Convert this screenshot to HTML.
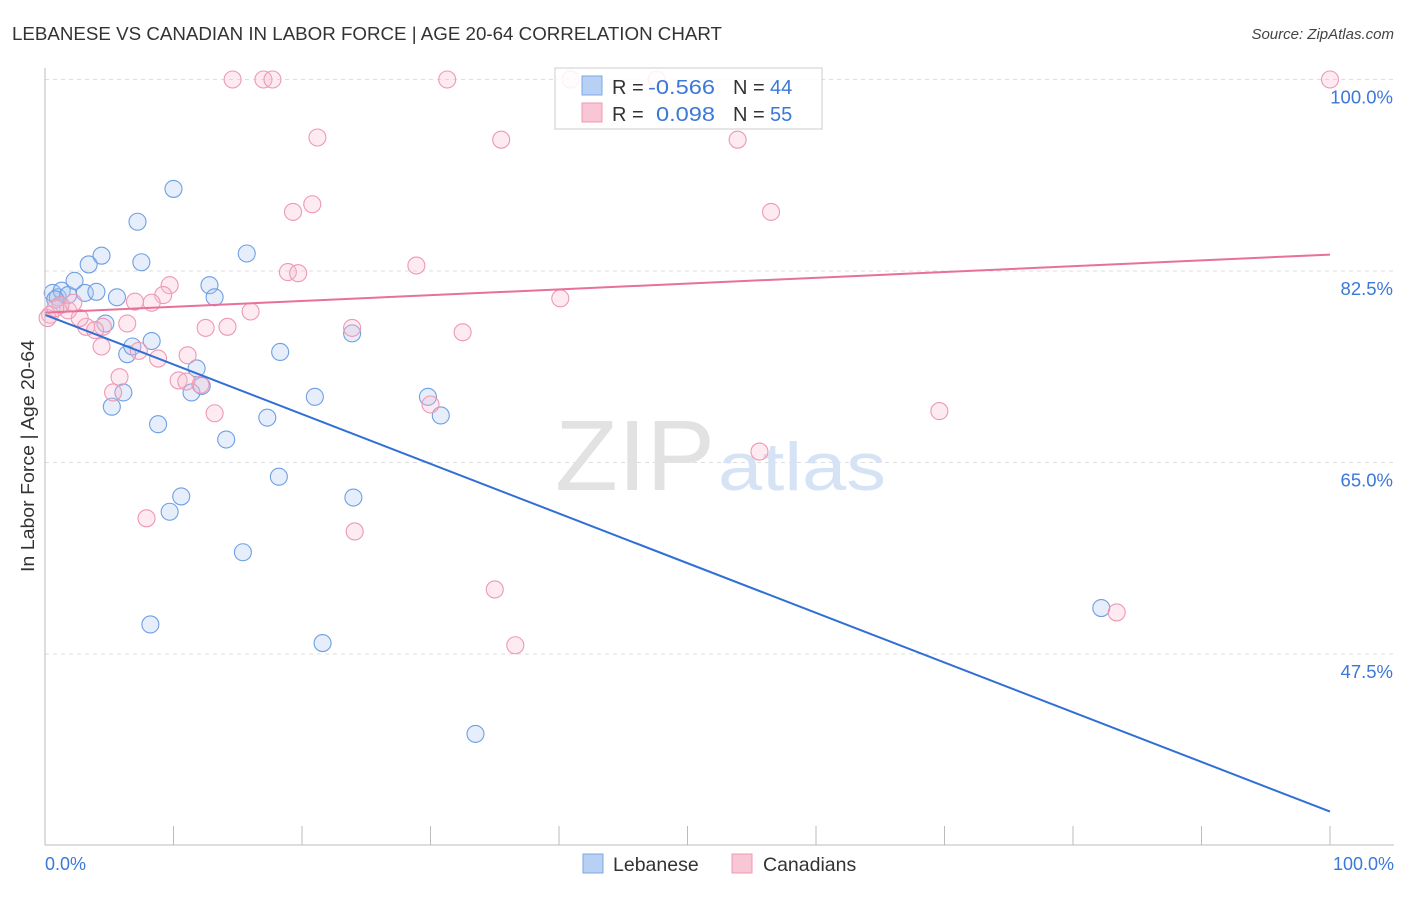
<!DOCTYPE html>
<html><head><meta charset="utf-8"><style>
body{margin:0;background:#fff;font-family:"Liberation Sans",sans-serif;}
svg text{font-family:"Liberation Sans",sans-serif;}
</style></head><body>
<svg id="chart" width="1406" height="892">
<text x="12" y="40" font-size="18.5" fill="#333" textLength="710" lengthAdjust="spacingAndGlyphs">LEBANESE VS CANADIAN IN LABOR FORCE | AGE 20-64 CORRELATION CHART</text>
<text x="1394" y="39" font-size="15" fill="#444" text-anchor="end" font-style="italic">Source: ZipAtlas.com</text>
<text x="0" y="0" font-size="18" fill="#333" textLength="232" lengthAdjust="spacingAndGlyphs" transform="translate(34 572) rotate(-90)">In Labor Force | Age 20-64</text>
<g id="grid"></g>
<text x="555" y="490" font-size="100" fill="#e2e2e2" font-family="Liberation Serif" textLength="160" lengthAdjust="spacingAndGlyphs">ZIP</text>
<text x="718" y="490" font-size="68" fill="#d5e3f5" textLength="168" lengthAdjust="spacingAndGlyphs">atlas</text>
<g id="points"></g>
<g id="lines"></g>
<line x1="45" y1="68" x2="45" y2="845" stroke="#bbb"/>
<line x1="45" y1="845" x2="1394" y2="845" stroke="#bbb"/>
<g id="ticks"></g>
<text x="45" y="870" font-size="18" fill="#3b78d8">0.0%</text>
<text x="1394" y="870" font-size="18" fill="#3b78d8" text-anchor="end">100.0%</text>
<g>
<rect x="555" y="68" width="267" height="61" fill="rgba(255,255,255,0.85)" stroke="#ccc"/>
<rect x="582" y="76" width="20" height="19" fill="#b8d0f4" stroke="#7ea6e6"/>
<rect x="582" y="103" width="20" height="19" fill="#f9c6d5" stroke="#ef98b2"/>
<text x="612" y="94" font-size="20" fill="#333">R =</text>
<text x="648" y="94" font-size="20" fill="#3b78d8" textLength="67" lengthAdjust="spacingAndGlyphs">-0.566</text>
<text x="733" y="94" font-size="20" fill="#333">N =</text>
<text x="770" y="94" font-size="20" fill="#3b78d8">44</text>
<text x="612" y="121" font-size="20" fill="#333">R =</text>
<text x="656" y="121" font-size="20" fill="#3b78d8" textLength="59" lengthAdjust="spacingAndGlyphs">0.098</text>
<text x="733" y="121" font-size="20" fill="#333">N =</text>
<text x="770" y="121" font-size="20" fill="#3b78d8">55</text>
</g>
<g>
<rect x="583" y="854" width="20" height="19" fill="#b8d0f4" stroke="#7ea6e6"/>
<text x="613" y="871" font-size="19.5" fill="#333">Lebanese</text></g>
<g>
<rect x="732" y="854" width="20" height="19" fill="#f9c6d5" stroke="#ef98b2"/>
<text x="763" y="871" font-size="19.5" fill="#333">Canadians</text></g>
</svg>
<script>
const yTicks=[100,82.5,65,47.5];
const yTickLabels=["100.0%","82.5%","65.0%","47.5%"];
const xTicks=[0,10,20,30,40,50,60,70,80,90,100];
const lebX=[0.6,1.0,1.3,1.8,2.3,3.1,3.4,4.0,4.4,5.6,4.7,5.2,6.1,6.4,6.8,7.2,7.5,8.3,8.8,10.0,9.7,10.6,11.4,11.8,12.2,12.8,13.2,14.1,15.4,15.7,17.3,18.2,18.3,21.0,21.6,23.9,24.0,8.2,29.8,30.8,33.5,82.2,0.8,1.2];
const lebY=[80.5,80.1,80.7,80.3,81.6,80.5,83.1,80.6,83.9,80.1,77.7,70.1,71.4,74.9,75.6,87.0,83.3,76.1,68.5,90.0,60.5,61.9,71.4,73.6,72.0,81.2,80.1,67.1,56.8,84.1,69.1,63.7,75.1,71.0,48.5,76.8,61.8,50.2,71.0,69.3,40.2,51.7,79.9,79.4];
const canX=[14.6,17.0,17.7,31.3,40.9,47.6,100,21.2,35.5,53.9,19.3,20.8,56.5,18.9,19.7,28.9,9.7,9.2,8.3,7.0,40.1,16.0,12.5,14.2,23.9,32.5,6.4,4.5,3.2,2.7,1.8,1.2,0.4,0.2,4.4,7.3,8.8,11.1,5.8,5.3,10.4,11.0,13.2,30.0,69.6,55.6,7.9,24.1,35.0,36.6,83.4,0.8,2.2,3.9,12.1];
const canY=[100,100,100,100,100,100,100,94.7,94.5,94.5,87.9,88.6,87.9,82.4,82.3,83.0,81.2,80.3,79.6,79.7,80.0,78.8,77.3,77.4,77.3,76.9,77.7,77.4,77.4,78.2,78.9,79.4,78.5,78.2,75.6,75.2,74.5,74.8,72.8,71.4,72.5,72.4,69.5,70.3,69.7,66.0,59.9,58.7,53.4,48.3,51.3,79.1,79.6,77.1,72.1];
const lebTrend=[78.5,33.1];
const canTrend=[78.7,84.0];
const NS="http://www.w3.org/2000/svg";
function sx(v){return 45+v*12.85;}
function sy(v){return 79.5+(100-v)*10.943;}
function mk(tag,attrs,parent){const e=document.createElementNS(NS,tag);for(const k in attrs)e.setAttribute(k,attrs[k]);document.getElementById(parent).appendChild(e);return e;}
yTicks.forEach((t,i)=>{
 const l=mk('line',{x1:45,x2:1394,y1:sy(t),y2:sy(t),stroke:'#ddd','stroke-dasharray':'4 4'},'grid');
 
 
 const tx=mk('text',{x:1393,y:sy(t)+24,'font-size':18.5,fill:'#3b78d8','text-anchor':'end'},'grid');
 tx.textContent=yTickLabels[i];
 
 
});
xTicks.forEach(t=>{
 const l=mk('line',{x1:sx(t),x2:sx(t),y1:826,y2:845,stroke:'#bbb'},'ticks');
 
 
});
lebX.forEach((x,i)=>{
 const c=mk('circle',{cx:sx(x),cy:sy(lebY[i]),r:8.5,fill:'rgba(170,200,240,0.3)',stroke:'#6f9fe3','stroke-width':1.1},'points');
 
 
});
canX.forEach((x,i)=>{
 const c=mk('circle',{cx:sx(x),cy:sy(canY[i]),r:8.5,fill:'rgba(248,190,210,0.3)',stroke:'#ee98b3','stroke-width':1.1},'points');
 
 
});
const bl=mk('line',{x1:sx(0),y1:sy(lebTrend[0]),x2:sx(100),y2:sy(lebTrend[1]),stroke:'#2f6fd6','stroke-width':2},'lines');


const pl=mk('line',{x1:sx(0),y1:sy(canTrend[0]),x2:sx(100),y2:sy(canTrend[1]),stroke:'#e8709a','stroke-width':2},'lines');


</script>
</body></html>
